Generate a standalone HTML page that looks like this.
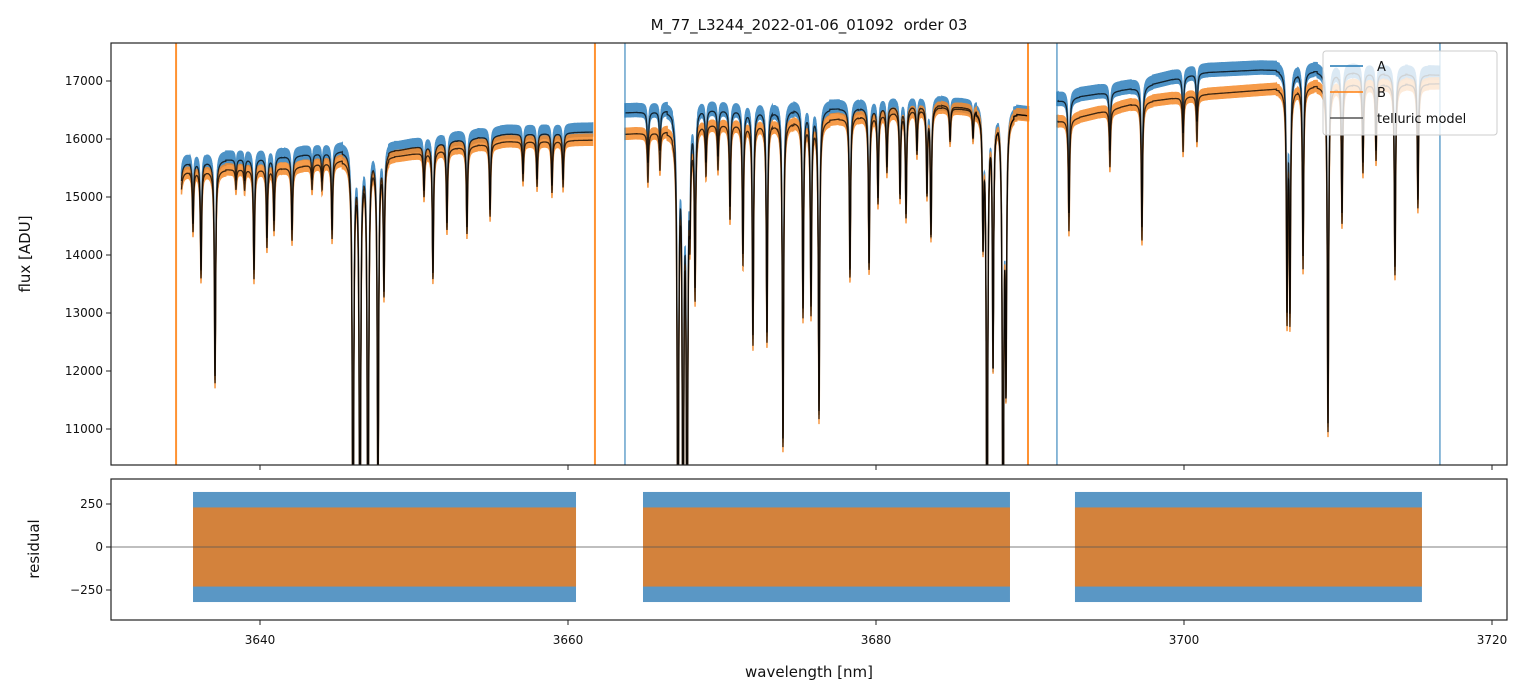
<!DOCTYPE html>
<html><head><meta charset="utf-8"><style>
body{margin:0;background:#fff;}
svg{display:block;font-family:"DejaVu Sans","Liberation Sans",sans-serif;}
</style></head><body>
<svg id="c" width="1527" height="696" xmlns="http://www.w3.org/2000/svg"></svg>
<script>
// ---- data ----
const segA = [
  [[3634.9,15600],[3638,15640],[3642,15700],[3646,15800],[3649,15800],[3652,15950],[3656,16080],[3661.6,16120]],
  [[3663.7,16450],[3666.5,16480],[3669,16500],[3676,16500],[3684,16590],[3689.9,16400]],
  [[3691.75,16650],[3693,16720],[3697,16880],[3701,17140],[3705,17190],[3710,17150],[3716.6,17100]]
];
const segB = [
  [[3634.9,15450],[3638,15470],[3642,15500],[3646,15650],[3649,15700],[3652,15820],[3656,15950],[3661.6,15980]],
  [[3663.7,16080],[3666.5,16120],[3669,16240],[3676,16290],[3684,16550],[3689.9,16400]],
  [[3691.75,16300],[3693,16360],[3697,16620],[3701,16760],[3705,16840],[3710,16930],[3716.6,16950]]
];
const lineCenters = [3634.75,3635.65,3636.17,3637.08,3638.44,3639.0,3639.61,3640.45,3640.91,3642.08,3643.38,3644.03,3644.68,3646.04,3646.49,3647.01,3647.66,3648.05,3650.65,3651.23,3652.14,3653.44,3654.94,3657.08,3657.99,3658.96,3659.68,
 3665.19,3665.97,3667.14,3667.47,3667.73,3667.92,3668.25,3668.96,3669.74,3670.52,3671.36,3672.01,3672.92,3673.96,3675.26,3675.78,3676.30,3678.31,3679.55,3680.13,3680.71,3681.56,3681.95,3682.66,3683.31,3683.57,3684.81,3686.30,3686.95,3687.21,3687.60,3688.25,3688.44,
 3692.53,3695.19,3697.27,3699.94,3700.84,3706.69,3706.88,3707.73,3709.35,3710.26,3711.62,3712.47,3713.70,3715.19];
const lineMinFlux = [12100,14550,13740,11900,15300,15300,13740,14300,14600,14430,15300,15300,14430,8000,8000,8000,9500,13450,15120,13690,14550,14480,14780,15400,15300,15200,15300,
 15590,15800,8000,8000,8000,15000,13520,15600,15700,14830,14030,12620,12650,10810,13100,13170,11330,13740,13860,15000,15520,15070,14720,15800,15120,14380,15980,16030,14380,8000,12190,8000,11970,
 14720,15800,14480,16100,16300,13170,13170,13970,11100,14720,15590,15800,13790,14950];
const spikeOrange = [3634.55,3661.75,3689.87];
const spikeBlue = [3663.7,3691.75,3716.62];
const resSegments = [[3635.65,3660.52],[3664.87,3688.70],[3692.92,3715.45]];
const resAmpA = [320,320,320];
const resAmpB = [230,230,230];
const xTicks = [3640,3660,3680,3700,3720];
const yTicksTop = [11000,12000,13000,14000,15000,16000,17000];
const yTicksRes = [-250,0,250];

// ---- axes ----
const L=111,R=1507,T1=43,B1=465,T2=479,B2=620;
const X=w=>260+(w-3640)*15.4;
const Y1=f=>81+(17000-f)*0.058;
const Y2=r=>547-r*0.172;
const svg=document.getElementById('c');
const NS='http://www.w3.org/2000/svg';
function el(tag,attrs,parent){const e=document.createElementNS(NS,tag);for(const k in attrs)e.setAttribute(k,attrs[k]);(parent||svg).appendChild(e);return e;}
const defs=el('defs',{});
const cp1=el('clipPath',{id:'cp1'},defs);el('rect',{x:L,y:T1,width:R-L,height:B1-T1},cp1);
const cp2=el('clipPath',{id:'cp2'},defs);el('rect',{x:L,y:T2,width:R-L,height:B2-T2},cp2);

function interp(pts,w){if(w<=pts[0][0])return pts[0][1];for(let i=1;i<pts.length;i++){if(w<=pts[i][0]){const t=(w-pts[i-1][0])/(pts[i][0]-pts[i-1][0]);return pts[i-1][1]+t*(pts[i][1]-pts[i-1][1]);}}return pts[pts.length-1][1];}
function modelPts(seg,refSeg){
  const out=[];const w0=seg[0][0],w1=seg[seg.length-1][0];
  for(let w=w0;w<=w1;w+=0.008){
    let f=interp(seg,w);
    for(let i=0;i<lineCenters.length;i++){const c=lineCenters[i];if(Math.abs(w-c)>0.7)continue;
      if(c<refSeg[0][0]-0.5||c>refSeg[refSeg.length-1][0]+0.5)continue;
      const cref=interp(refSeg,c);
      const tau=-Math.log(Math.min(lineMinFlux[i]/cref,0.999));const g=0.045;
      f*=Math.exp(-tau/(1+((w-c)/g)**2));}
    out.push([X(w),Y1(f)]);
  }
  return out;
}
function linePath(p){return p.map((q,i)=>(i?'L':'M')+q[0].toFixed(1)+','+q[1].toFixed(1)).join('');}
function bandPath(p,up,down){let d=p.map((q,i)=>(i?'L':'M')+q[0].toFixed(1)+','+(q[1]-up).toFixed(1)).join('');
  for(let i=p.length-1;i>=0;i--)d+='L'+p[i][0].toFixed(1)+','+(p[i][1]+down).toFixed(1);return d+'Z';}
const g1=el('g',{'clip-path':'url(#cp1)'});
const ptsA=[],ptsB=[];
for(let s=0;s<3;s++){ptsA.push(modelPts(segA[s],segA[s]));ptsB.push(modelPts(segB[s],segA[s]));}
for(let s=0;s<3;s++){
  const p=el('path',{d:bandPath(ptsA[s],9,4),fill:'#2f80bd',stroke:'#2f80bd','stroke-width':1.5,opacity:0.85},g1);
  
}
for(let s=0;s<3;s++){
  const p=el('path',{d:bandPath(ptsB[s],6,5),fill:'#f58a2a',stroke:'#f58a2a','stroke-width':1.5,opacity:0.85},g1);
  
}
for(let s=0;s<3;s++){
  for(const pts of [ptsA[s],ptsB[s]]){
    const p=el('path',{d:linePath(pts),fill:'none',stroke:'#000','stroke-width':1.3,'stroke-opacity':0.75},g1);
    
  }
}
spikeOrange.forEach(w=>{const l=el('line',{x1:X(w),x2:X(w),y1:T1,y2:B1,stroke:'#ff7f0e','stroke-width':2,'stroke-opacity':0.85},g1);
  });
spikeBlue.forEach(w=>{const l=el('line',{x1:X(w),x2:X(w),y1:T1,y2:B1,stroke:'#1f77b4','stroke-width':1.2,'stroke-opacity':0.85},g1);
  });

// residuals
const g2=el('g',{'clip-path':'url(#cp2)'});
resSegments.forEach((s,i)=>{
  const a=el('rect',{x:X(s[0]),y:Y2(resAmpA[i]),width:X(s[1])-X(s[0]),height:Y2(-resAmpA[i])-Y2(resAmpA[i]),fill:'#3d85bb',opacity:0.85},g2);
  
  const b=el('rect',{x:X(s[0]),y:Y2(resAmpB[i]),width:X(s[1])-X(s[0]),height:Y2(-resAmpB[i])-Y2(resAmpB[i]),fill:'#e0802c',opacity:0.9},g2);
  
});
const zl=el('line',{x1:L,x2:R,y1:Y2(0),y2:Y2(0),stroke:'#555','stroke-width':0.8},g2);


// frames
const f1=el('rect',{x:L,y:T1,width:R-L,height:B1-T1,fill:'none',stroke:'#222','stroke-width':1.2});

const f2=el('rect',{x:L,y:T2,width:R-L,height:B2-T2,fill:'none',stroke:'#222','stroke-width':1.2});


xTicks.forEach(v=>{
  el('line',{x1:X(v),x2:X(v),y1:B1,y2:B1+5,stroke:'#222'});
  el('line',{x1:X(v),x2:X(v),y1:B2,y2:B2+5,stroke:'#222'});
  const t=el('text',{x:X(v),y:B2+24,'font-size':12,'text-anchor':'middle',fill:'#111'});t.textContent=v;
  
});
yTicksTop.forEach(v=>{
  el('line',{x1:L-5,x2:L,y1:Y1(v),y2:Y1(v),stroke:'#222'});
  const t=el('text',{x:L-8,y:Y1(v)+4,'font-size':12,'text-anchor':'end',fill:'#111'});t.textContent=v;
  
});
yTicksRes.forEach(v=>{
  el('line',{x1:L-5,x2:L,y1:Y2(v),y2:Y2(v),stroke:'#222'});
  const t=el('text',{x:L-8,y:Y2(v)+4,'font-size':12,'text-anchor':'end',fill:'#111'});t.textContent=(v<0?'\u2212'+(-v):v);
  
});
</script>
<svg width="1527" height="696" style="position:absolute;left:0;top:0" xmlns="http://www.w3.org/2000/svg" font-family="DejaVu Sans, Liberation Sans, sans-serif">
  <text x="809" y="30" font-size="15" text-anchor="middle" fill="#111" xml:space="preserve">M_77_L3244_2022-01-06_01092&#160; order 03</text>
  <text transform="translate(30,254) rotate(-90)" font-size="15" text-anchor="middle" fill="#111">flux [ADU]</text>
  <text transform="translate(39,549) rotate(-90)" font-size="15" text-anchor="middle" fill="#111">residual</text>
  <text x="809" y="677" font-size="15" text-anchor="middle" fill="#111">wavelength [nm]</text>
  <g>
    <rect x="1323" y="51" width="174" height="84" rx="3" fill="#fff" fill-opacity="0.8" stroke="#ccc"/>
    <line x1="1330" x2="1363" y1="66" y2="66" stroke="#1f77b4" stroke-width="1.5"/>
    <text x="1377" y="71" font-size="13" fill="#111">A</text>
    <line x1="1330" x2="1363" y1="92" y2="92" stroke="#ff7f0e" stroke-width="1.5"/>
    <text x="1377" y="97" font-size="13" fill="#111">B</text>
    <line x1="1330" x2="1363" y1="118" y2="118" stroke="#555" stroke-width="1.5"/>
    <text x="1377" y="123" font-size="13" fill="#111">telluric model</text>
  </g>
</svg>
</body></html>
